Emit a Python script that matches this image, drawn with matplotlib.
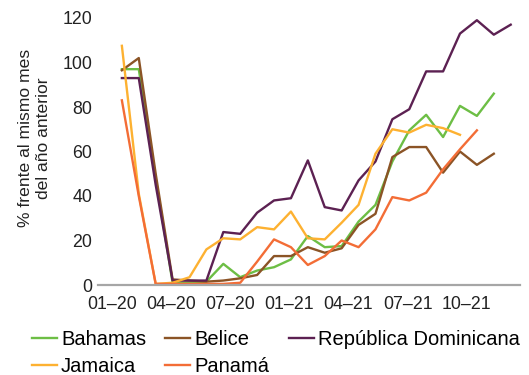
import numpy as np
import matplotlib
matplotlib.use("Agg")
import matplotlib.pyplot as plt

plt.rcParams["font.family"] = ["Liberation Sans", "DejaVu Sans"]

nan = np.nan
months = list(range(24))  # 01-20 .. 12-21
tick_labels = ["01–20", "04–20", "07–20", "01–21", "04–21", "07–21", "10–21"]

bahamas = [97, 97, 48, 1, 1, 1.5, 9.5, 3.5, 6.5, 8, 11.5, 22, 17, 17.5,
           28.5, 36, 55.5, 69.5, 76.5, 66.5, 80.5, 76, 86, nan]
belice = [96.5, 102, 50, 2.5, 2, 1.5, 2, 3, 4.5, 13, 13, 17, 14.5, 16.5,
          27, 32, 57.5, 62, 62, 50.5, 60, 54, 59, nan]
rep_dom = [93, 93, 45, 2, 2, 2, 23.8, 23, 32.5, 38, 39, 56, 35, 33.5,
           47, 55.5, 74.5, 79, 96, 96, 113, 119, 112.5, 117]
jamaica = [107.5, 41, 0.5, 1, 3.5, 16, 21, 20.5, 26, 25, 33, 21, 20.5, 28,
           36, 59, 70, 68.5, 72, 70.5, 67.5, nan, nan, nan]
panama = [83, 40, 0.5, 0.5, 0.5, 0.5, 0.5, 1, 10.5, 20.5, 17, 9, 13, 20,
          17, 25, 39.5, 38, 41.5, 52, 61, 69.5, nan, nan]

series = [
    ("Bahamas", bahamas, "#6dbe45"),
    ("Belice", belice, "#8b5426"),
    ("República Dominicana", rep_dom, "#5c2152"),
    ("Jamaica", jamaica, "#fdb131"),
    ("Panamá", panama, "#f36d36"),
]

fig = plt.figure(figsize=(5.29, 3.75), dpi=100)
ax = fig.add_axes([0.185, 0.24, 0.798, 0.712])

lines = {}
for name, vals, col in series:
    (ln,) = ax.plot(months, vals, color=col, lw=1.7, label=name, clip_on=False)
    lines[name] = ln

ax.set_xlim(-1.42, 23.55)
ax.set_ylim(0, 120)
ax.set_yticks(range(0, 121, 20))
ax.set_xticks([-0.6 + 3.5 * k for k in range(len(tick_labels))])
ax.set_xticklabels(tick_labels)
ax.tick_params(axis="both", length=0, labelsize=12.8, colors="#222222")
ax.tick_params(axis="y", pad=4)
ax.tick_params(axis="x", pad=8)

for s in ["top", "right", "left"]:
    ax.spines[s].set_visible(False)
ax.spines["bottom"].set_color("#a6a6a6")
ax.spines["bottom"].set_linewidth(1.6)

ax.set_ylabel("% frente al mismo mes\ndel año anterior", fontsize=12.6,
              color="#222222", linespacing=1.25)
ax.yaxis.set_label_coords(-0.112, 0.55)

order = ["Bahamas", "Jamaica", "Belice", "Panamá", "República Dominicana"]
fig.legend([lines[n] for n in order], order, ncol=3, frameon=False,
           loc="upper left", bbox_to_anchor=(0.06, 0.12), fontsize=14.5,
           handlelength=1.25, handletextpad=0.2, columnspacing=0.95,
           labelspacing=0.42, borderaxespad=0, borderpad=0)

fig.savefig("out.png", dpi=100)
